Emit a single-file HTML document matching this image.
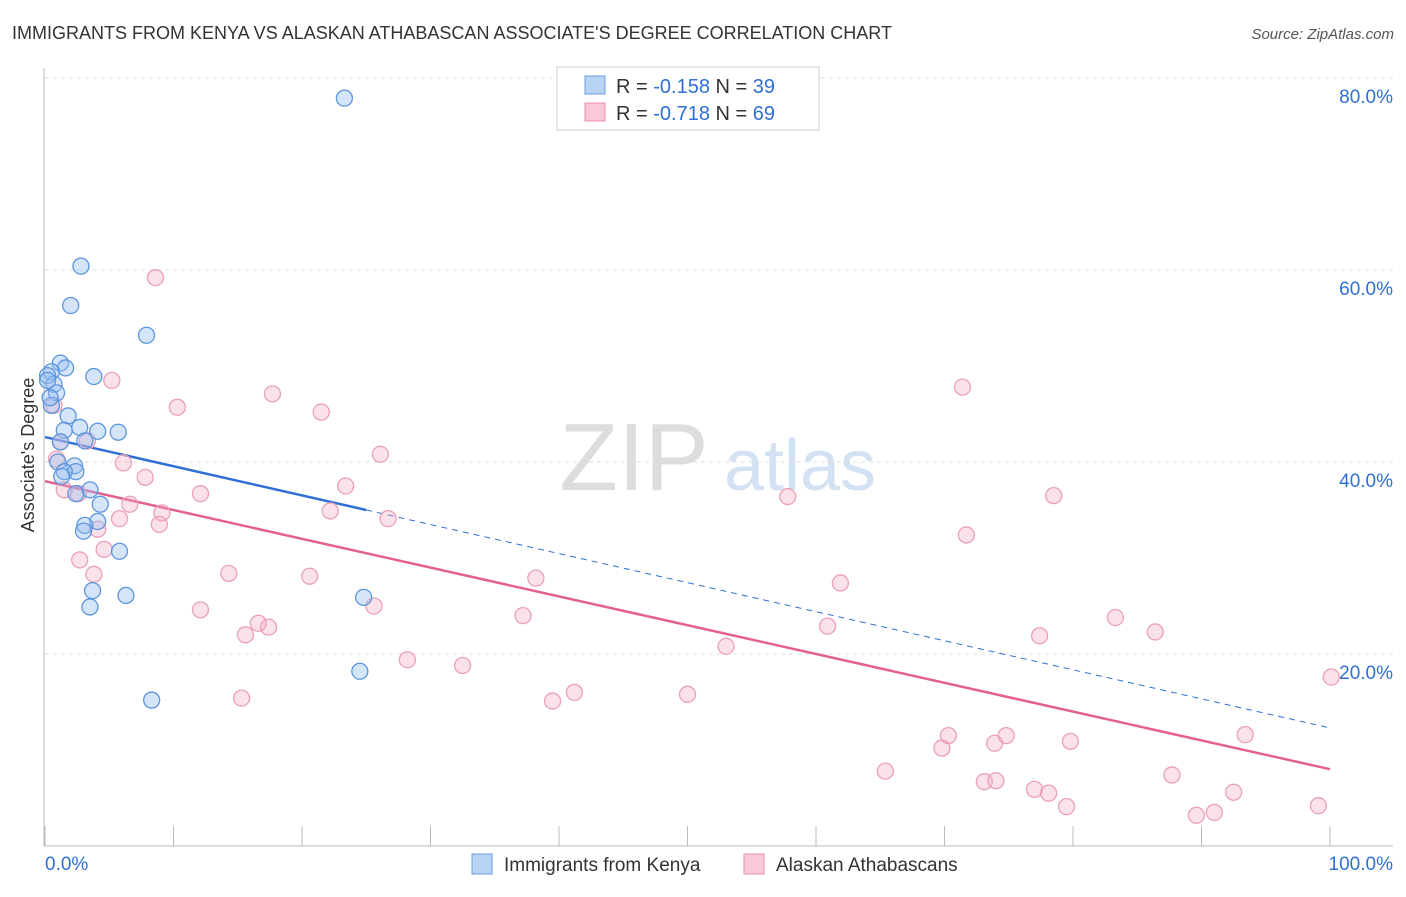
<!DOCTYPE html>
<html><head><meta charset="utf-8"><style>
body{margin:0;background:#fff;font-family:"Liberation Sans",sans-serif;}
svg text{font-family:"Liberation Sans",sans-serif;}
</style></head><body>
<svg id="c" width="1406" height="892" viewBox="0 0 1406 892" xmlns="http://www.w3.org/2000/svg">
<text x="12" y="39" font-size="18" fill="#333">IMMIGRANTS FROM KENYA VS ALASKAN ATHABASCAN ASSOCIATE'S DEGREE CORRELATION CHART</text>
<text x="1394" y="39" font-size="15" fill="#555" font-style="italic" text-anchor="end">Source: ZipAtlas.com</text>
<g><text x="634" y="490" font-size="96" fill="#ddd" font-family="Liberation Serif" text-anchor="middle">ZIP</text><text x="800" y="490" font-size="72" fill="#d3e2f3" text-anchor="middle">atlas</text></g>
<g id="grid"></g><g id="axes"></g><g id="lines"></g><g id="pts"></g>
<text transform="translate(34,455) rotate(-90)" font-size="18" fill="#333" text-anchor="middle">Associate's Degree</text>
<g>
<rect x="557" y="67" width="262" height="63" fill="#fff" stroke="#ccc"/>
<rect x="585" y="76" width="20" height="18" fill="#b8d3f3" stroke="#6a9fe0"/>
<rect x="585" y="103" width="20" height="18" fill="#f9c9d7" stroke="#ea8fab"/>
<text x="616" y="93" font-size="20" fill="#333">R = <tspan fill="#2f6fd6">-0.158</tspan>   N = <tspan fill="#2f6fd6">39</tspan></text>
<text x="616" y="120" font-size="20" fill="#333">R = <tspan fill="#2f6fd6">-0.718</tspan>   N = <tspan fill="#2f6fd6">69</tspan></text>
</g>
<g>
<rect x="472" y="854" width="20" height="20" fill="#b8d3f3" stroke="#6a9fe0"/>
<text x="504" y="871" font-size="19" fill="#333">Immigrants from Kenya</text>
<rect x="744" y="854" width="20" height="20" fill="#f9c9d7" stroke="#ea8fab"/>
<text x="776" y="871" font-size="19" fill="#333">Alaskan Athabascans</text>
</g>
</svg>
<script>
const blueX=[23.3,2.8,2.0,7.9,1.2,1.6,3.8,0.5,0.2,0.7,0.9,0.5,1.8,1.5,2.7,4.1,5.7,3.1,1.2,1.0,2.3,2.4,1.5,1.3,3.5,2.4,4.3,4.1,3.1,3.0,5.8,3.7,6.3,3.5,24.8,24.5,8.3,0.2,0.4];
const blueY=[77.9,60.4,56.3,53.2,50.3,49.8,48.9,49.4,49.0,48.1,47.2,45.9,44.8,43.3,43.6,43.2,43.1,42.2,42.1,40.0,39.6,39.0,39.0,38.5,37.1,36.7,35.6,33.8,33.4,32.8,30.7,26.6,26.1,24.9,25.9,18.2,15.2,48.5,46.7];
const pinkX=[8.6,71.4,17.7,10.3,21.5,5.2,26.1,0.7,3.3,1.2,0.9,6.1,7.8,23.4,1.5,2.6,12.1,57.8,78.5,6.6,22.2,9.1,5.8,26.7,8.9,4.1,71.7,4.6,2.7,3.8,14.3,20.6,38.2,61.9,25.6,12.1,37.2,83.3,16.6,17.4,60.9,15.6,77.4,86.4,53.0,28.2,32.5,41.2,50.0,15.3,39.5,100.1,70.3,74.8,93.4,69.8,73.9,79.8,65.4,87.7,73.1,74.0,77.0,78.1,79.5,92.5,89.6,91.0,99.1];
const pinkY=[59.2,47.8,47.1,45.7,45.2,48.5,40.8,45.9,42.2,42.1,40.3,39.9,38.4,37.5,37.1,36.7,36.7,36.4,36.5,35.6,34.9,34.7,34.1,34.1,33.5,33.0,32.4,30.9,29.8,28.3,28.4,28.1,27.9,27.4,25.0,24.6,24.0,23.8,23.2,22.8,22.9,22.0,21.9,22.3,20.8,19.4,18.8,16.0,15.8,15.4,15.1,17.6,11.5,11.5,11.6,10.2,10.7,10.9,7.8,7.4,6.7,6.8,5.9,5.5,4.1,5.6,3.2,3.5,4.2];
const yTicks=[20,40,60,80];
const xTickLabels=["0.0%","100.0%"];
const blueTrend=[[0,42.6],[25,35.0],[100,12.3]];
const pinkTrend=[[0,38.0],[100,8.0]];
const NS="http://www.w3.org/2000/svg";
const sx=v=>45+v*12.85, sy=v=>846-v*9.6;
function mk(p,t,a){const e=document.createElementNS(NS,t);for(const k in a)e.setAttribute(k,a[k]);document.getElementById(p).appendChild(e);return e;}
yTicks.forEach(t=>{
 const l=mk('grid','line',{x1:45,x2:1393,y1:sy(t),y2:sy(t),stroke:'#ddd','stroke-dasharray':'4,4'});
 
 
 const tx=mk('grid','text',{x:1393,y:sy(t)+25,'font-size':19,fill:'#2f6fd6','text-anchor':'end'});
 tx.textContent=t.toFixed(1)+'%';
 
 
});
mk('axes','line',{x1:44,x2:44,y1:68,y2:846,stroke:'#bbb'});
mk('axes','line',{x1:44,x2:1393,y1:846,y2:846,stroke:'#bbb'});
for(let i=0;i<=10;i++){const t=mk('axes','line',{x1:sx(i*10),x2:sx(i*10),y1:826,y2:846,stroke:'#bbb'});
 
 }
const xl0=mk('axes','text',{x:45,y:870,'font-size':19,fill:'#2f6fd6'});xl0.textContent=xTickLabels[0];


const xl1=mk('axes','text',{x:1393,y:870,'font-size':19,fill:'#2f6fd6','text-anchor':'end'});xl1.textContent=xTickLabels[1];


pinkX.forEach((x,i)=>{const c=mk('pts','circle',{cx:sx(x),cy:sy(pinkY[i]),r:8,fill:'rgba(244,170,195,0.35)',stroke:'#eaa0b8','stroke-width':1.3});
 
 });
blueX.forEach((x,i)=>{const c=mk('pts','circle',{cx:sx(x),cy:sy(blueY[i]),r:8,fill:'rgba(150,190,240,0.4)',stroke:'#5c95dd','stroke-width':1.3});
 
 });
const b1=mk('lines','line',{x1:sx(blueTrend[0][0]),y1:sy(blueTrend[0][1]),x2:sx(blueTrend[1][0]),y2:sy(blueTrend[1][1]),stroke:'#2f6fd6','stroke-width':2.5});


const b2=mk('lines','line',{x1:sx(blueTrend[1][0]),y1:sy(blueTrend[1][1]),x2:sx(blueTrend[2][0]),y2:sy(blueTrend[2][1]),stroke:'#2f6fd6','stroke-width':1,'stroke-dasharray':'6,5'});


const p1=mk('lines','line',{x1:sx(pinkTrend[0][0]),y1:sy(pinkTrend[0][1]),x2:sx(pinkTrend[1][0]),y2:sy(pinkTrend[1][1]),stroke:'#e4608e','stroke-width':2.5});


</script>
</body></html>
